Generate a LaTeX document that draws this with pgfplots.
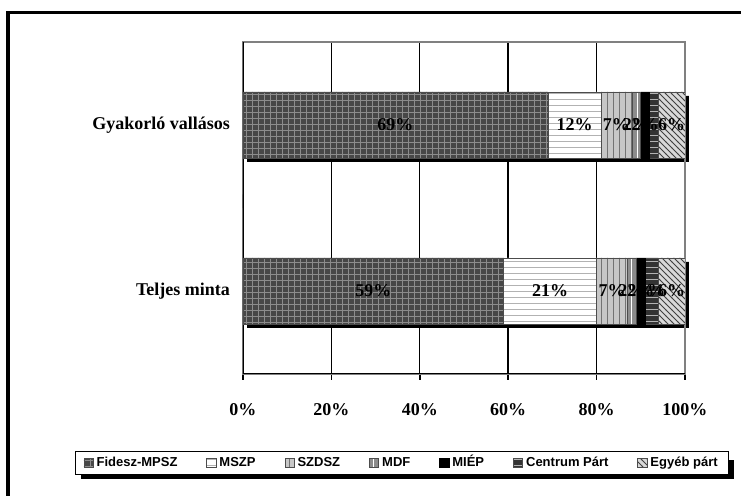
\documentclass[border=0pt]{standalone}
\usepackage{fontspec}
\setmainfont{Liberation Serif}
\newfontfamily\legfont{Liberation Sans}
\usepackage{pgfplots}
\usepackage{pgfplotstable}
\pgfplotsset{compat=1.18}
\usetikzlibrary{patterns}

% share of party preference, per group (0 = Teljes minta, 1 = Gyakorlo vallasos)
\pgfplotstableread{
cat fidesz mszp szdsz mdf miep centrum egyeb total
0   59     21   7     2   2    3       6     100
1   69     12   7     2   2    2       6     100
}\partdata

\tikzset{val/.style={font=\bfseries\fontsize{9}{10}\selectfont, inner sep=0pt}}
\pgfplotsset{
  plotbox/.style={
    scale only axis, width=221pt, height=166pt,
    xmin=0, xmax=100, ymin=-0.5, ymax=1.5,
  },
}

\begin{document}
\begin{tikzpicture}
% outer frame (runs off the page at right and bottom)
\draw[line width=1.5pt] (4pt,241.5pt) rectangle (390pt,-20pt);
% shadow of the legend box
\fill[black] (40.5pt,8.3pt) rectangle (367pt,18pt);

% shadow behind the bars
\begin{axis}[
    plotbox, hide axis,
    at={(123.5pt,59pt)}, anchor=south west,
    xbar, bar width=33pt,
]
\addplot[fill=black, draw=none] table[x=total, y=cat] {\partdata};
\end{axis}

\begin{axis}[
    plotbox,
    at={(121.5pt,61pt)}, anchor=south west,
    xbar stacked, bar width=33pt,
    xtick={0,20,...,100},
    ytick={0,1}, yticklabels={Teljes minta, Gyakorló vallásos},
    xtick pos=bottom, ytick pos=left,
    ytick style={draw=none},
    xtick style={black, line width=0.8pt},
    tick align=outside, major tick length=3pt,
    xmajorgrids, grid style={black, line width=0.7pt},
    axis line style={draw=gray, line width=0.6pt},
    /pgf/number format/assume math mode=true,
    xticklabel={\pgfmathprintnumber{\tick}\%},
    ticklabel style={font=\bfseries\fontsize{9}{10}\selectfont},
    xticklabel style={yshift=-8pt},
    legend columns=7,
    legend style={
        at={(0.36,-0.268)}, anchor=center,
        draw=black, line width=0.6pt, fill=white,
        font=\legfont\bfseries\fontsize{6.5}{7}\selectfont,
        inner xsep=4pt, inner ysep=1.5pt,
        nodes={text height=5pt, text depth=1.2pt, inner xsep=1.5pt, inner ysep=1pt},
        /tikz/every even column/.append style={column sep=13pt},
    },
    legend image code/.code={\draw[#1, line width=0.4pt] (0pt,-2.3pt) rectangle (4.6pt,2.3pt);},
]
\addplot[fill=black!72, draw=black!70, postaction={pattern=grid, pattern color=white!55!black}]
    table[x=fidesz, y=cat] {\partdata};
\addlegendentry{Fidesz-MPSZ}
\addplot[fill=white, draw=black!70, postaction={pattern=horizontal lines, pattern color=black!30}]
    table[x=mszp, y=cat] {\partdata};
\addlegendentry{MSZP}
\addplot[fill=black!22, draw=black!70, postaction={pattern=vertical lines, pattern color=black!55}]
    table[x=szdsz, y=cat] {\partdata};
\addlegendentry{SZDSZ}
\addplot[fill=black!45, draw=black!70, postaction={pattern=vertical lines, pattern color=white}]
    table[x=mdf, y=cat] {\partdata};
\addlegendentry{MDF}
\addplot[fill=black, draw=black]
    table[x=miep, y=cat] {\partdata};
\addlegendentry{MIÉP}
\addplot[fill=black!80, draw=black!70, postaction={pattern=horizontal lines, pattern color=white!70!black}]
    table[x=centrum, y=cat] {\partdata};
\addlegendentry{Centrum Párt}
\addplot[fill=white!85!black, draw=black!70, postaction={pattern=north west lines, pattern color=black!75}]
    table[x=egyeb, y=cat] {\partdata};
\addlegendentry{Egyéb párt}

% axis lines over the plot box
\draw[black, line width=0.9pt] (rel axis cs:0,1) -- (rel axis cs:0,0) -- (rel axis cs:1,0);
\draw[black, line width=0.9pt] (axis cs:0,0.5) -- ++(-3.5pt,0);
\end{axis}

% value labels, on top of the bars
\begin{axis}[
    plotbox, hide axis,
    at={(121.5pt,61pt)}, anchor=south west,
]
\node[val] at (axis cs:34.5,1) {69\%};
\node[val] at (axis cs:75,1) {12\%};
\node[val] at (axis cs:84.5,1) {7\%};
\node[val] at (axis cs:89,1) {2\%};
\node[val] at (axis cs:91,1) {2\%};
\node[val] at (axis cs:97,1) {6\%};
\node[val] at (axis cs:29.5,0) {59\%};
\node[val] at (axis cs:69.5,0) {21\%};
\node[val] at (axis cs:83.5,0) {7\%};
\node[val] at (axis cs:88,0) {2\%};
\node[val] at (axis cs:90,0) {2\%};
\node[val] at (axis cs:92.5,0) {3\%};
\node[val] at (axis cs:97,0) {6\%};
\end{axis}

\pgfresetboundingbox
\useasboundingbox (0,0) rectangle (370.5pt,248pt);
\end{tikzpicture}
\end{document}
